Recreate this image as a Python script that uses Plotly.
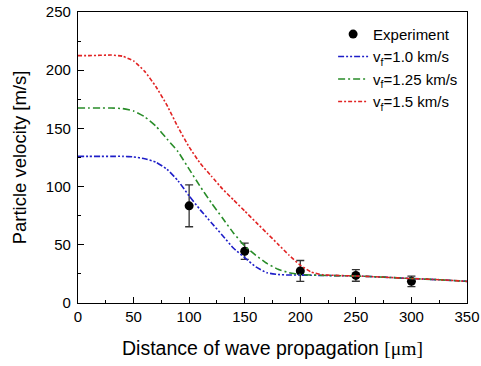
import plotly.graph_objects as go

# Experimental data
exp_x = [100, 150, 200, 250, 300]
exp_y = [83.5, 44.5, 27.5, 23.7, 18.6]
exp_err = [18, 7, 9, 5, 4.5]

# Model curves
blue_x = [0, 10, 20, 30, 40, 50, 60, 70, 80, 90, 100, 110, 120, 130, 140, 150, 160, 170, 180, 190, 200, 225, 250, 275, 300, 325, 350]
blue_y = [126, 126, 126, 126, 126, 125.5, 124, 121, 115, 105, 92, 80, 69, 58, 47, 39, 31, 26, 24.5, 24, 24, 23.6, 23.2, 22.2, 21, 20, 18.6]

green_x = [0, 10, 20, 30, 40, 50, 60, 70, 80, 90, 100, 110, 120, 130, 140, 150, 160, 170, 180, 190, 200, 225, 250, 275, 300, 325, 350]
green_y = [167.5, 167.5, 167.5, 167.5, 167, 165, 160, 152, 141, 130, 115, 100, 86, 73, 60, 49, 41, 34, 29, 26, 24.5, 23.6, 23.2, 22.2, 21, 20, 18.6]

red_x = [0, 10, 20, 30, 40, 50, 60, 70, 80, 90, 100, 110, 120, 130, 140, 150, 160, 170, 180, 190, 200, 210, 220, 235, 250, 275, 300, 325, 350]
red_y = [212.5, 212.5, 212.8, 213, 212, 208, 199, 186, 170, 151, 134, 120, 109, 98, 88.5, 79, 69.5, 60, 50.5, 41, 32.5, 26.5, 24.3, 23.6, 23.2, 22.2, 21, 20, 18.6]

x_ticks = [0, 50, 100, 150, 200, 250, 300, 350]
y_ticks = [0, 50, 100, 150, 200, 250]

FONT = "Liberation Sans, Arial, sans-serif"

fig = go.Figure()
fig.add_trace(go.Scatter(
    x=exp_x, y=exp_y, mode="markers", name="Experiment",
    marker=dict(color="black", size=9),
    error_y=dict(type="data", array=exp_err, color="#333333", thickness=1.3, width=4),
))
fig.add_trace(go.Scatter(
    x=blue_x, y=blue_y, mode="lines", name="v<sub>f</sub>=1.0 km/s",
    line=dict(color="rgb(30,30,200)", width=1.6, dash="6px,2px,2px,2px,2px,2px", shape="spline", smoothing=0.4),
))
fig.add_trace(go.Scatter(
    x=green_x, y=green_y, mode="lines", name="v<sub>f</sub>=1.25 km/s",
    line=dict(color="rgb(40,140,40)", width=1.6, dash="7px,3px,2px,3px", shape="spline", smoothing=0.4),
))
fig.add_trace(go.Scatter(
    x=red_x, y=red_y, mode="lines", name="v<sub>f</sub>=1.5 km/s",
    line=dict(color="rgb(225,35,35)", width=1.6, dash="4px,2px,2px,2px", shape="spline", smoothing=0.4),
))

axis_common = dict(
    showgrid=False, zeroline=False, showline=True, linecolor="black", linewidth=1.3,
    mirror=True, ticks="inside", ticklen=6, tickwidth=1.3, tickcolor="black",
    tickfont=dict(family=FONT, size=15, color="black"), automargin=False,
)

fig.update_xaxes(
    range=[0, 350], tickvals=x_ticks, ticktext=[str(v) for v in x_ticks],
    minor=dict(dtick=25, ticks="inside", ticklen=3, tickwidth=1.3, tickcolor="black"),
    title=dict(text="Distance of wave propagation <span style='font-family:Liberation Serif, Times New Roman, serif'>[μm]</span>",
               font=dict(family=FONT, size=19.5, color="black"), standoff=17),
    **axis_common,
)
fig.update_yaxes(
    range=[0, 250], tickvals=y_ticks, ticktext=[str(v) for v in y_ticks],
    minor=dict(dtick=25, ticks="inside", ticklen=3, tickwidth=1.3, tickcolor="black"),
    title=dict(text="Particle velocity [m/s]", font=dict(family=FONT, size=18.5, color="black"), standoff=14),
    ticklabelstandoff=3,
    **axis_common,
)

fig.update_layout(
    width=481, height=366,
    margin=dict(l=78, r=14, t=12, b=63),
    plot_bgcolor="white", paper_bgcolor="white",
    font=dict(family=FONT, color="black"),
    legend=dict(x=0.99, y=0.98, xanchor="right", yanchor="top",
                bgcolor="rgba(255,255,255,0)", font=dict(family=FONT, size=15, color="black"),
                tracegroupgap=0, itemwidth=30),
    showlegend=True,
)

fig.write_html("out.html", config={"displayModeBar": False},
               post_script="document.body.style.margin='0';document.body.style.overflow='hidden';")
